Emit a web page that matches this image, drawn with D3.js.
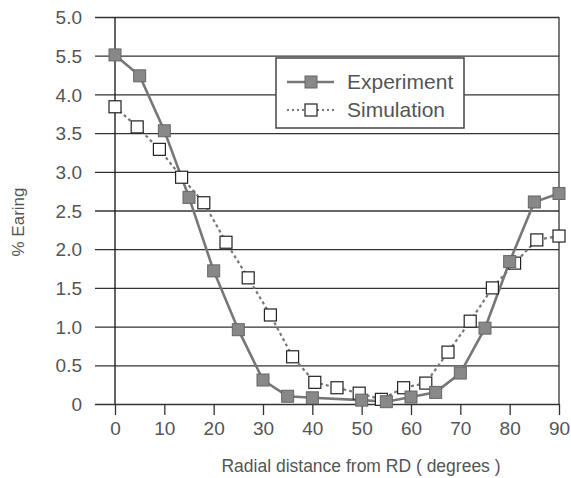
<!DOCTYPE html>
<html><head><meta charset="utf-8">
<script src="https://cdn.jsdelivr.net/npm/d3@7"></script>
<style>body{margin:0;background:#fff}svg{display:block}</style>
</head><body>
<svg id="c" width="571" height="478"></svg>
<script>
const expAngles = [0,5,10,15,20,25,30,35,40,50,55,60,65,70,75,80,85,90];
const expValues = [4.51,4.24,3.53,2.67,1.72,0.96,0.31,0.10,0.08,0.05,0.03,0.09,0.15,0.40,0.98,1.84,2.61,2.72];
const simAngles = [0,4.5,9,13.5,18,22.5,27,31.5,36,40.5,45,49.5,54,58.5,63,67.5,72,76.5,81,85.5,90];
const simValues = [3.84,3.58,3.29,2.93,2.60,2.09,1.63,1.15,0.61,0.28,0.21,0.14,0.06,0.21,0.27,0.67,1.07,1.50,1.82,2.12,2.17];
const yTicks = [0,0.5,1,1.5,2,2.5,3,3.5,4,4.5,5];
const yTickLabels = ["0","0.5","1.0","1.5","2.0","2.5","3.0","3.5","4.0","5.5","5.0"];
const xTicks = [0,10,20,30,40,50,60,70,80,90];
const seriesNames = ["Experiment","Simulation"];
const xTitle = "Radial distance from RD ( degrees )";
const yTitle = "% Earing";

const svg = d3.select("#c");
const font = "'Liberation Sans', Arial, sans-serif";
const txt = "#555";
const x = d3.scaleLinear().domain([0,90]).range([115,559]);
const y = d3.scaleLinear().domain([0,5]).range([404,17]);

// gridlines (with left outward ticks)
const yAxis = d3.axisLeft(y).tickValues(yTicks)
  .tickFormat((d,i)=>yTickLabels[i]).tickSize(-(x(90)-x(0))).tickSizeOuter(0);
const gy = svg.append("g").attr("transform",`translate(${x(0)},0)`).call(yAxis);
gy.select(".domain").remove();
gy.selectAll(".tick line").attr("x1",-20).attr("stroke","#333").attr("stroke-width",1.3);
gy.selectAll(".tick text").attr("x",-33).attr("dy","0.35em")
  .style("font-family",font).style("font-size","19px").attr("fill",txt);

// y axis line & right border
svg.append("line").attr("x1",x(0)).attr("x2",x(0)).attr("y1",y(5)).attr("y2",y(0))
  .attr("stroke","#222").attr("stroke-width",1.4);
svg.append("line").attr("x1",x(90)).attr("x2",x(90)).attr("y1",y(5)).attr("y2",y(0))
  .attr("stroke","#333").attr("stroke-width",1.3);

// x axis
const xAxis = d3.axisBottom(x).tickValues(xTicks).tickSize(11).tickSizeOuter(0);
const gx = svg.append("g").attr("transform",`translate(0,${y(0)})`).call(xAxis);
gx.select(".domain").remove();
gx.selectAll(".tick line").attr("stroke","#333").attr("stroke-width",1.3);
gx.selectAll(".tick text").attr("y",18)
  .style("font-family",font).style("font-size","19px").attr("fill",txt);

// titles
svg.append("text").attr("x",361).attr("y",472).attr("text-anchor","middle")
  .style("font-family",font).style("font-size","17.5px").attr("fill",txt).text(xTitle);
svg.append("text").attr("transform","translate(24,222) rotate(-90)").attr("text-anchor","middle")
  .style("font-family",font).style("font-size","17px").attr("fill",txt).text(yTitle);

// lines
const simData = simAngles.map((a,i)=>[a,simValues[i]]);
const expData = expAngles.map((a,i)=>[a,expValues[i]]);
const line = d3.line().x(d=>x(d[0])).y(d=>y(d[1]));
svg.append("path").attr("d",line(simData)).attr("fill","none")
  .attr("stroke","#777").attr("stroke-width",2.2).attr("stroke-dasharray","3,3");
svg.append("path").attr("d",line(expData)).attr("fill","none")
  .attr("stroke","#777").attr("stroke-width",2.6);

const s = 12;
svg.append("g").selectAll("rect").data(simData).join("rect")
  .attr("x",d=>x(d[0])-s/2).attr("y",d=>y(d[1])-s/2).attr("width",s).attr("height",s)
  .attr("fill","#fff").attr("stroke","#222").attr("stroke-width",1.2);
svg.append("g").selectAll("rect").data(expData).join("rect")
  .attr("x",d=>x(d[0])-s/2).attr("y",d=>y(d[1])-s/2).attr("width",s).attr("height",s)
  .attr("fill","#888").attr("stroke","#666").attr("stroke-width",1);

// legend
const lg = svg.append("g");
lg.append("rect").attr("x",276).attr("y",58).attr("width",188).attr("height",70)
  .attr("fill","#fff").attr("stroke","#444").attr("stroke-width",1.5);
const ly = [82,110];
lg.append("line").attr("x1",287).attr("x2",334).attr("y1",ly[0]).attr("y2",ly[0])
  .attr("stroke","#777").attr("stroke-width",2.6);
lg.append("rect").attr("x",305).attr("y",ly[0]-6).attr("width",12).attr("height",12)
  .attr("fill","#888").attr("stroke","#666");
lg.append("line").attr("x1",287).attr("x2",334).attr("y1",ly[1]).attr("y2",ly[1])
  .attr("stroke","#777").attr("stroke-width",2).attr("stroke-dasharray","2,3");
lg.append("rect").attr("x",305).attr("y",ly[1]-6).attr("width",12).attr("height",12)
  .attr("fill","#fff").attr("stroke","#222").attr("stroke-width",1.2);
seriesNames.forEach((n,i)=>{
  lg.append("text").attr("x",347).attr("y",ly[i]).attr("dy","0.35em")
    .style("font-family",font).style("font-size","21px").attr("fill",txt).text(n);
});
</script>
</body></html>
